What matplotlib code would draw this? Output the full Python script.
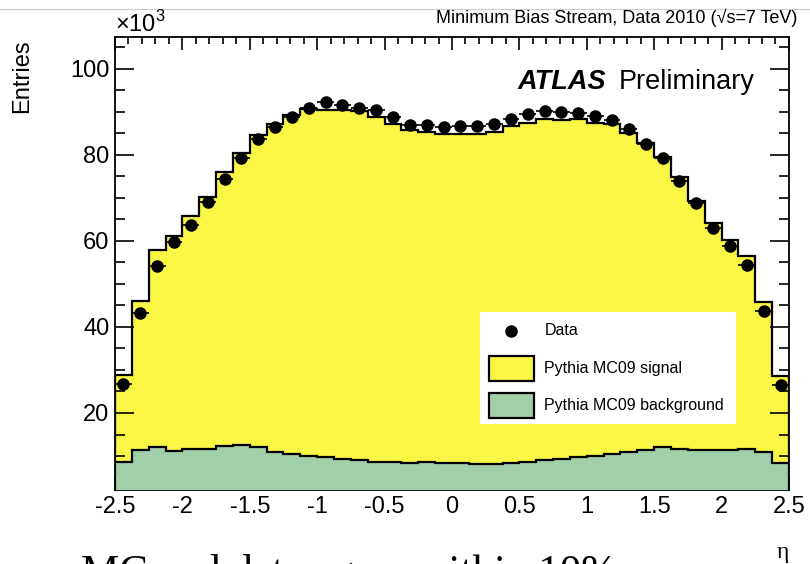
import numpy as np
import matplotlib
matplotlib.use("Agg")
import matplotlib.pyplot as plt
from matplotlib.patches import Rectangle
from matplotlib.lines import Line2D

plt.rcParams['font.family'] = ['Liberation Sans', 'DejaVu Sans']
plt.rcParams['mathtext.fontset'] = 'custom'
plt.rcParams['mathtext.rm'] = 'Liberation Sans'

# 40 bins in eta, entries in thousands
eta_edges = np.linspace(-2.5, 2.5, 41)
data_k = [26.7, 43.3, 54.2, 59.8, 63.8, 69.0, 74.3, 79.2, 83.6, 86.4,
          88.8, 90.9, 92.2, 91.5, 90.8, 90.4, 88.8, 87.0, 87.0, 86.4,
          86.7, 86.7, 87.2, 88.3, 89.5, 90.2, 89.9, 89.8, 89.0, 88.0,
          86.1, 82.6, 79.2, 73.9, 68.8, 63.0, 58.9, 54.4, 43.8, 26.4]
mc_total_k = [28.8, 46.1, 57.9, 61.2, 65.7, 70.3, 76.1, 80.5, 84.6, 87.1,
              89.3, 90.7, 90.5, 90.5, 90.1, 88.8, 87.1, 85.7, 85.3, 84.9,
              84.9, 84.9, 85.4, 86.7, 87.3, 88.4, 88.2, 88.4, 87.5, 87.2,
              85.2, 82.7, 79.5, 74.8, 69.3, 64.1, 60.1, 56.5, 45.9, 28.6]
mc_bkg_k = [8.5, 11.4, 12.0, 11.2, 11.6, 11.6, 12.3, 12.6, 12.2, 10.9,
            10.5, 10.0, 9.8, 9.3, 9.0, 8.7, 8.5, 8.3, 8.5, 8.4,
            8.4, 8.1, 8.2, 8.4, 8.7, 9.1, 9.4, 9.8, 10.1, 10.5,
            10.9, 11.5, 12.0, 11.6, 11.4, 11.4, 11.4, 11.7, 11.0, 8.4]
legend_labels = ["Data", "Pythia MC09 signal", "Pythia MC09 background"]

yellow = "#FAF645"
green = "#A0CFAA"

centers = 0.5 * (eta_edges[:-1] + eta_edges[1:])
half_w = 0.5 * np.diff(eta_edges)

fig = plt.figure(figsize=(8.1, 5.64), dpi=100)
ax = fig.add_axes([0.142, 0.1312, 0.832, 0.8032])

# stacked MC: signal on top of background
ax.stairs(mc_total_k, eta_edges, fill=True, color=yellow, baseline=0, zorder=1)
ax.stairs(mc_total_k, eta_edges, color="black", lw=1.6, baseline=0, zorder=2)
ax.stairs(mc_bkg_k, eta_edges, fill=True, color=green, baseline=0, zorder=3)
ax.stairs(mc_bkg_k, eta_edges, color="black", lw=1.6, baseline=0, zorder=4)

ax.errorbar(centers, data_k, xerr=half_w, fmt="o", color="black", ms=8,
            elinewidth=1.2, capsize=0, zorder=5)

ax.set_xlim(-2.5, 2.5)
ax.set_ylim(2.1, 107.4)
ax.set_xticks(np.arange(-2.5, 2.51, 0.5))
ax.set_xticks(np.arange(-2.5, 2.51, 0.1), minor=True)
ax.set_xticklabels([f"{v:g}" for v in np.arange(-2.5, 2.51, 0.5)])
ax.set_yticks([20, 40, 60, 80, 100])
ax.set_yticks(np.arange(5, 107, 5), minor=True)
ax.tick_params(axis="both", which="both", direction="in", top=True, right=True,
               labelsize=17, width=1.2, pad=4)
ax.tick_params(axis="y", which="major", length=14)
ax.tick_params(axis="y", which="minor", length=7)
ax.tick_params(axis="x", which="major", length=9.5)
ax.tick_params(axis="x", which="minor", length=5)
for s in ax.spines.values():
    s.set_linewidth(1.3)

# legend drawn as in the ROOT pave
ax.add_patch(Rectangle((0.5415, 0.146), 0.3795, 0.247, transform=ax.transAxes,
                       facecolor="white", edgecolor="none", zorder=6))
row_y = [0.352, 0.268, 0.186]
ax.add_line(Line2D([0.588], [row_y[0]], transform=ax.transAxes, marker="o",
                   ms=8, color="black", zorder=7))
for y, c in zip(row_y[1:], [yellow, green]):
    ax.add_patch(Rectangle((0.555, y - 0.028), 0.067, 0.056, transform=ax.transAxes,
                           facecolor=c, edgecolor="black", lw=1.6, zorder=7))
for y, lab in zip(row_y, legend_labels):
    ax.text(0.637, y, lab, transform=ax.transAxes, fontsize=11.5,
            va="center", ha="left", zorder=8)

ax.text(0.597, 0.9, "ATLAS", transform=ax.transAxes, fontsize=19.5,
        fontweight="bold", fontstyle="italic", va="center", ha="left")
ax.text(0.748, 0.9, "Preliminary", transform=ax.transAxes, fontsize=19.5,
        va="center", ha="left")

fig.text(0.985, 0.968, "Minimum Bias Stream, Data 2010 (\u221as=7 TeV)",
         fontsize=13, ha="right", va="center")
fig.text(0.142, 0.935, r"$\times10^{3}$", fontsize=17, ha="left", va="bottom")
fig.text(0.027, 0.93, "Entries", rotation=90, fontsize=17, ha="center", va="top")
fig.text(0.967, 0.02, "\u03b7", fontsize=17, family=["Liberation Serif", "DejaVu Serif"],
         ha="center", va="center")
fig.text(0.1, -0.035, "MC and data agree within 10%", fontsize=31,
         family=["Liberation Serif", "DejaVu Serif"], ha="left", va="baseline")
fig.add_artist(Line2D([0, 1], [0.984, 0.984], transform=fig.transFigure,
                      color="#cccccc", lw=0.8))

fig.savefig("out.png", dpi=100)
